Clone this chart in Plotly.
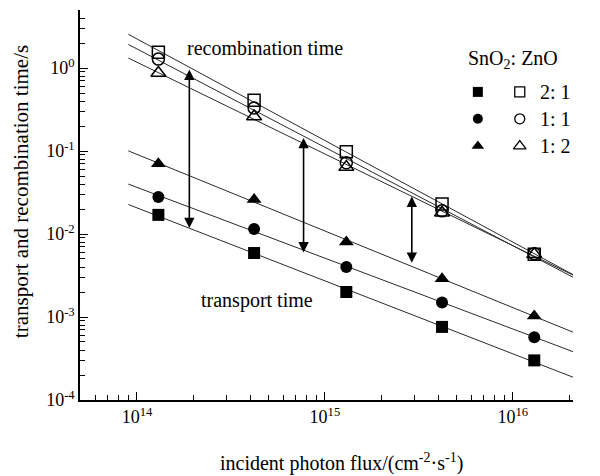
import numpy as np
import plotly.graph_objects as go

# ---- data ----
flux = [1.3e14, 4.2e14, 1.3e15, 4.2e15, 1.3e16]

rec_21 = [1.55, 0.41, 0.098, 0.023, 0.0057]   # open squares
rec_11 = [1.28, 0.33, 0.072, 0.019, 0.0058]   # open circles
rec_12 = [0.87, 0.26, 0.064, 0.018, 0.0057]   # open triangles

tr_21 = [0.017, 0.0059, 0.0020, 0.00076, 0.00030]  # filled squares
tr_11 = [0.028, 0.0115, 0.0040, 0.0015, 0.00057]   # filled circles
tr_12 = [0.070, 0.026, 0.0080, 0.0029, 0.00103]    # filled triangles

fit_x = [9e13, 2.1e16]

arrow_x = [1.9e14, 7.7e14, 2.9e15]
arrow_top = [1.0, 0.15, 0.0295]
arrow_bottom = [0.0118, 0.006, 0.0045]

y_tick_exp = [-4, -3, -2, -1, 0]
x_tick_exp = [14, 15, 16]
ratio_labels = ["2: 1", "1: 1", "1: 2"]

FONT = "Liberation Serif"
LINE = "#2a2a2a"

fig = go.Figure()

series = [
    (rec_21, "square-open"), (rec_11, "circle-open"), (rec_12, "triangle-up-open"),
    (tr_21, "square"), (tr_11, "circle"), (tr_12, "triangle-up"),
]

lx_fit = np.log10(fit_x)
for vals, sym in series:
    p = np.polyfit(np.log10(flux), np.log10(vals), 1)
    fig.add_trace(go.Scatter(x=fit_x, y=10 ** np.polyval(p, lx_fit), mode="lines",
                             line=dict(color=LINE, width=1), showlegend=False,
                             hoverinfo="skip"))

for vals, sym in series:
    openm = sym.endswith("open")
    fig.add_trace(go.Scatter(
        x=flux, y=vals, mode="markers", showlegend=False,
        marker=dict(symbol=sym, size=12 if "triangle" not in sym else 13,
                    color="black",
                    line=dict(color="black", width=1.5 if openm else 0)),
    ))

# legend symbols on an auxiliary axis (fractions of the plot area)
leg_fx = [0.807, 0.892]
leg_fy = [0.790, 0.721, 0.651]
leg_syms = [("square", "square-open"), ("circle", "circle-open"),
            ("triangle-up", "triangle-up-open")]
for i, (fs, os_) in enumerate(leg_syms):
    for j, s in enumerate((fs, os_)):
        fig.add_trace(go.Scatter(
            x=[leg_fx[j]], y=[leg_fy[i]], xaxis="x2", yaxis="y2",
            mode="markers", showlegend=False, hoverinfo="skip",
            marker=dict(symbol=s, size=10 if "triangle" not in s else 11,
                        color="black", line=dict(color="black", width=1.3 if j else 0)),
        ))

ann = []
for xa, yt, yb in zip(arrow_x, arrow_top, arrow_bottom):
    ann.append(dict(x=np.log10(xa), y=np.log10(yb), ax=np.log10(xa), ay=np.log10(yt),
                    xref="x", yref="y", axref="x", ayref="y", text="",
                    showarrow=True, arrowside="end+start", arrowhead=2,
                    arrowsize=1.3, arrowwidth=1.6, arrowcolor="black",
                    standoff=0, startstandoff=0))

def txt(s, x, y, size=20, xanchor="left", angle=0):
    ann.append(dict(text=s, x=x, y=y, xref="paper", yref="paper", showarrow=False,
                    xanchor=xanchor, yanchor="middle", textangle=angle,
                    font=dict(family=FONT, size=size, color="black")))

txt("recombination time", 0.213, 0.903)
txt("transport time", 0.241, 0.256)
txt("SnO<sub>2</sub>: ZnO", 0.783, 0.872)
for lab, fy in zip(ratio_labels, leg_fy):
    txt(lab, 0.929, fy)
txt("incident photon flux/(cm<sup>-2</sup>·s<sup>-1</sup>)", 0.531, -0.160,
    size=20, xanchor="center")
txt("transport and recombination time/s", -0.118, 0.535, size=21,
    xanchor="center", angle=-90)

minor_x = [m * 10.0 ** k for k in range(13, 17) for m in range(2, 10)]
minor_y = [m * 10.0 ** k for k in range(-5, 1) for m in range(2, 10)]

axis_common = dict(showline=True, linecolor="black", linewidth=1.5, mirror=False,
                   ticks="inside", ticklen=8, tickwidth=1.2, tickcolor="black",
                   showgrid=False, zeroline=False,
                   tickfont=dict(family=FONT, size=18, color="black"))

fig.update_layout(
    width=600, height=476,
    margin=dict(l=80, r=27, t=10, b=76),
    paper_bgcolor="white", plot_bgcolor="white",
    xaxis=dict(type="log", range=[13.697, 16.32], tickmode="array",
               tickvals=[10.0 ** e for e in x_tick_exp],
               ticktext=[f"10<sup>{e}</sup>" for e in x_tick_exp],
               minor=dict(tickmode="array", tickvals=minor_x, ticks="inside",
                          ticklen=5, tickwidth=1, tickcolor="black", showgrid=False),
               **axis_common),
    yaxis=dict(type="log", range=[-4, 0.699], tickmode="array",
               tickvals=[10.0 ** e for e in y_tick_exp],
               ticktext=[f"10<sup>{e}</sup>" for e in y_tick_exp],
               minor=dict(tickmode="array", tickvals=minor_y, ticks="inside",
                          ticklen=5, tickwidth=1, tickcolor="black", showgrid=False),
               **axis_common),
    xaxis2=dict(overlaying="x", anchor="y2", range=[0, 1], visible=False),
    yaxis2=dict(overlaying="y", anchor="x2", range=[0, 1], visible=False),
    annotations=ann,
    font=dict(family=FONT, color="black"),
)

fig.write_html("out.html", config={"displayModeBar": False},
               post_script="document.body.style.margin='0px';document.body.style.overflow='hidden';")
